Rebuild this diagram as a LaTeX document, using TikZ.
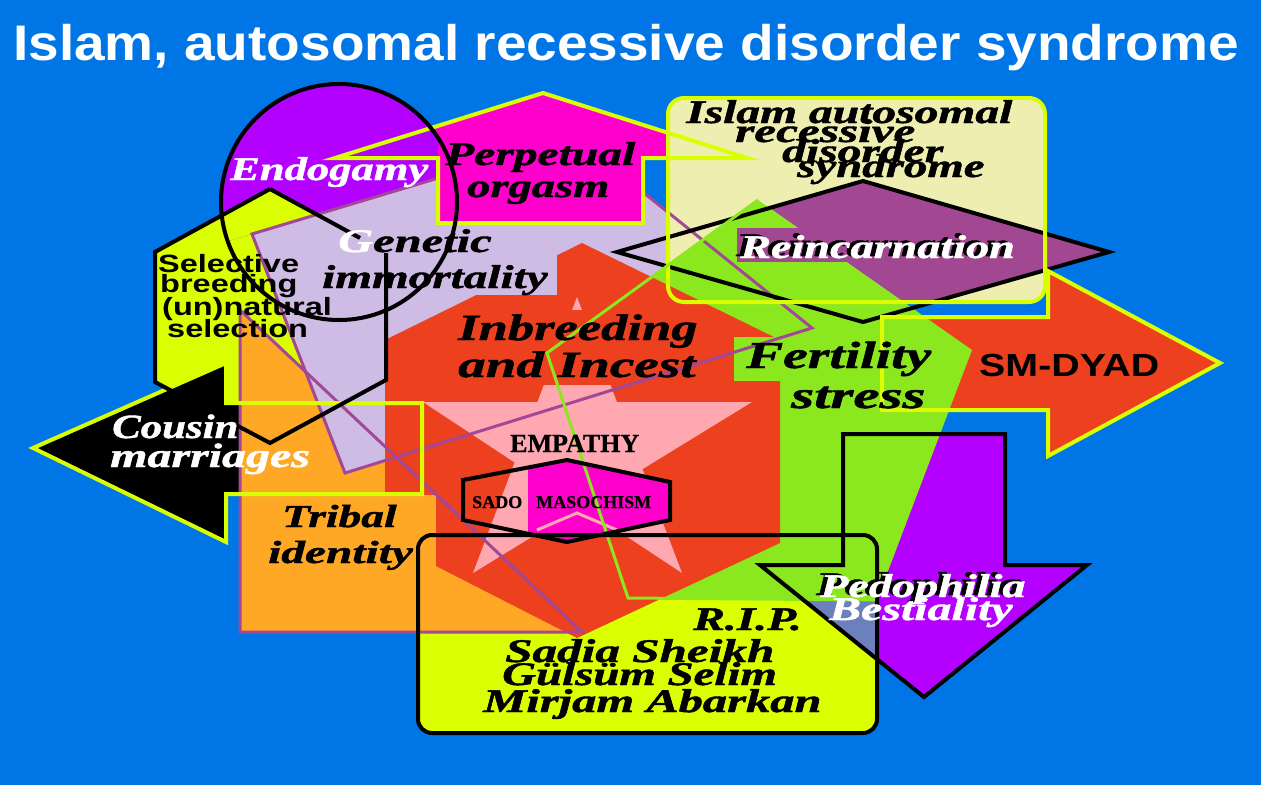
\documentclass[tikz,border=0pt]{standalone}
\usepackage{fontspec}
\usepackage{graphicx}
\setmainfont{Liberation Serif}[BoldItalicFeatures={FakeBold=1.2},BoldFeatures={FakeBold=0.8}]
\newfontfamily\sansbold{Liberation Sans}
\newcommand{\sxs}[2]{\scalebox{#1}[1]{#2}}
\newcommand{\shd}[1]{\makebox[0pt][l]{\hspace{-3pt}\raisebox{2pt}{\textcolor{black}{#1}}}#1}
\definecolor{bgblue}{RGB}{0,118,230}
\definecolor{ylw}{RGB}{218,255,0}
\definecolor{orng}{RGB}{255,168,38}
\definecolor{lav}{RGB}{207,188,228}
\definecolor{pbord}{RGB}{162,72,150}
\definecolor{mag}{RGB}{255,0,204}
\definecolor{vio}{RGB}{180,0,255}
\definecolor{rd}{RGB}{236,64,30}
\definecolor{pnk}{RGB}{255,168,178}
\definecolor{grn}{RGB}{140,232,30}
\definecolor{dpur}{RGB}{162,72,146}
\definecolor{pale}{RGB}{238,238,176}
\definecolor{gblue}{RGB}{108,128,190}
\tikzset{
  lw3/.style={line width=3pt},
  lw4/.style={line width=4pt},
  scr/.style={anchor=base west, inner sep=0pt, font=\fontsize{#1}{#1}\selectfont\bfseries\itshape},
  sans/.style={anchor=base west, inner sep=0pt, font=\sansbold\fontsize{#1}{#1}\selectfont\bfseries},
  serb/.style={anchor=base west, inner sep=0pt, font=\fontsize{#1}{#1}\selectfont\bfseries},
  hexp/.style={insert path={(270,189) -- (386,253) -- (386,380) -- (270,443) -- (155,382) -- (155,252) -- cycle}},
  cousinp/.style={insert path={(33,448) -- (226,363) -- (226,403) -- (422,403) -- (422,494) -- (226,494) -- (226,542) -- cycle}},
  magp/.style={insert path={(335,158) -- (543,93) -- (747,158) -- (643,158) -- (643,223) -- (438,223) -- (438,158) -- cycle}},
  diap/.style={insert path={(617,252) -- (863,181) -- (1109,252) -- (863,322) -- cycle}},
  smp/.style={insert path={(882,317) -- (1048,317) -- (1048,271) -- (1220,363) -- (1048,456) -- (1048,410) -- (882,410) -- cycle}},
  pedp/.style={insert path={(843,434) -- (1005,434) -- (1005,565) -- (1087,565) -- (924,697) -- (760,565) -- (843,565) -- cycle}},
  grnp/.style={insert path={(758,200) -- (972,350) -- (877,600) -- (628,598) -- (547,353) -- cycle}},
  sadop/.style={insert path={(463,480) -- (567,460) -- (670,482) -- (670,520) -- (567,542) -- (463,520) -- cycle}},
}
\begin{document}
\begin{tikzpicture}[x=1pt,y=-1pt,line join=miter]
\useasboundingbox (0,0) rectangle (1261,785);
\fill[bgblue] (0,0) rectangle (1261,785);
% ---------- fills ----------
\fill[ylw, rounded corners=14pt] (418,535) rectangle (877,733);
\path[fill=ylw, hexp];
\path[fill=black, cousinp];
\fill[orng] (240,310) -- (240,632) -- (582,632) -- cycle;
\fill[lav] (252,234) -- (575,137) -- (812,328) -- (345,473) -- cycle;
\path[fill=mag, magp];
\begin{scope}
  \clip (0,0) -- (438,0) -- (438,178.1) -- (0,309.7) -- cycle;
  \fill[vio] (339,202) circle [radius=118];
  \path[fill=ylw, hexp];
\end{scope}
\fill[pale, rounded corners=16pt] (668,98) rectangle (1045,302);
\begin{scope}
  \clip[diap];
  \clip (686.7,150) -- (1200,150) -- (1200,400) -- (1045,400) -- (1045,302) -- (903.5,302) -- cycle;
  \path[fill=dpur, diap];
\end{scope}
\path[fill=rd, smp];
\path[fill=vio, pedp];
\begin{scope}
  \clip[pedp];
  \fill[gblue] (420,537) rectangle (875,731);
\end{scope}
\path[fill=grn, grnp];
\fill[rd] (582,243) -- (780,340) -- (780,543) -- (577,638) -- (385,540) -- (385,340) -- cycle;
\fill[pnk] (577,297) -- (473,573) -- (752,402) -- (423,402) -- (682,573) -- cycle;
\begin{scope}
  \clip[sadop];
  \fill[mag] (528,440) rectangle (700,560);
\end{scope}
\draw[pnk, lw3] (537,530) -- (577,513) -- (617,530);
% ---------- text backgrounds ----------
\fill[lav] (320,225) rectangle (557,295);
\fill[rd] (455,310) rectangle (700,385);
\fill[grn] (734,337) rectangle (930,381);
\fill[dpur] (737,228) rectangle (1017,262);
\fill[orng] (245,495) rectangle (436,575);
% ---------- outlines ----------
\draw[pbord, lw3] (240,310) -- (240,632) -- (582,632) -- cycle;
\draw[pbord, lw3] (438,178.1) -- (252,234) -- (345,473) -- (812,328) -- (644,193);
\path[draw=ylw, lw4, cousinp];
\draw[black, lw4] (270,189) -- (360,238);
\draw[black, lw4] (386,253) -- (386,380) -- (270,443) -- (155,382) -- (155,252) -- (270,189);
\path[draw=ylw, lw4, magp];
\draw[black, lw4] (339,202) circle [radius=118];
\path[draw=black, lw4, diap];
\draw[ylw, lw4, rounded corners=16pt] (668,98) rectangle (1045,302);
\path[draw=ylw, lw4, smp];
\draw[grn, lw3] (758,200) -- (547,353) -- (628,598) -- (877,600);
\path[draw=black, lw4, sadop];
\draw[black, lw4, rounded corners=14pt] (418,535) rectangle (877,733);
\path[draw=black, lw4, pedp];
% ---------- texts ----------
\node[sans=50, text=white] (title) at (13,60) {\sxs{1.1}{Islam, autosomal recessive disorder syndrome}};
\node[sans=25] (sel1) at (158,272) {\sxs{1.3}{Selective}};
\node[sans=25] (sel2) at (160,292) {\sxs{1.3}{breeding}};
\node[sans=25] (sel3) at (162,315) {\sxs{1.3}{(un)natural}};
\node[sans=25] (sel4) at (167,337) {\sxs{1.3}{selection}};
\node[sans=32] (smdyad) at (979,376) {\sxs{1.23}{SM-DYAD}};
\node[serb=26] (empathy) at (510,452) {EMPATHY};
\node[serb=18] (sado) at (472,508) {SADO\hspace{14pt}MASOCHISM};
\node[scr=33, text=white] (endo) at (230,180) {\sxs{1.35}{Endogamy}};
\node[scr=33] (perp1) at (445,165) {\sxs{1.44}{Perpetual}};
\node[scr=33] (perp2) at (467,197) {\sxs{1.41}{orgasm}};
\node[scr=33] (gen1) at (338,252) {\sxs{1.47}{\textcolor{white}{G}enetic}};
\node[scr=33] (gen2) at (322,288) {\sxs{1.43}{immortality}};
\node[scr=33] (isl1) at (686,123) {\sxs{1.44}{Islam autosomal}};
\node[scr=33] (isl2) at (735,142) {\sxs{1.49}{recessive}};
\node[scr=33] (isl3) at (782,162) {\sxs{1.44}{disorder}};
\node[scr=33] (isl4) at (797,177) {\sxs{1.42}{syndrome}};
\node[scr=33, text=white] (reinc) at (740,258) {\sxs{1.40}{\shd{Reincarnation}}};
\node[scr=37] (inb1) at (458,340) {\sxs{1.42}{Inbreeding}};
\node[scr=37] (inb2) at (458,377) {\sxs{1.49}{and Incest}};
\node[scr=38] (fert1) at (746,368) {\sxs{1.46}{Fertility}};
\node[scr=38] (fert2) at (791,408) {\sxs{1.55}{stress}};
\node[scr=34, text=white] (cous1) at (112,438) {\sxs{1.26}{Cousin}};
\node[scr=34, text=white] (cous2) at (110,467) {\sxs{1.41}{marriages}};
\node[scr=32] (trib1) at (282,527) {\sxs{1.42}{Tribal}};
\node[scr=32] (trib2) at (268,563) {\sxs{1.48}{identity}};
\node[scr=33, text=white] (ped1) at (820,597) {\sxs{1.40}{\shd{Pedophilia}}};
\node[scr=33, text=white] (ped2) at (829,620) {\sxs{1.45}{Bestiality}};
\node[scr=33] (rip) at (693,630) {\sxs{1.44}{R.I.P.}};
\node[scr=33] (name1) at (505,662) {\sxs{1.49}{Sadia Sheikh}};
\node[scr=33] (name2) at (502,685) {\sxs{1.42}{Gülsüm Selim}};
\node[scr=33] (name3) at (483,712) {\sxs{1.47}{Mirjam Abarkan}};
\end{tikzpicture}
\end{document}
